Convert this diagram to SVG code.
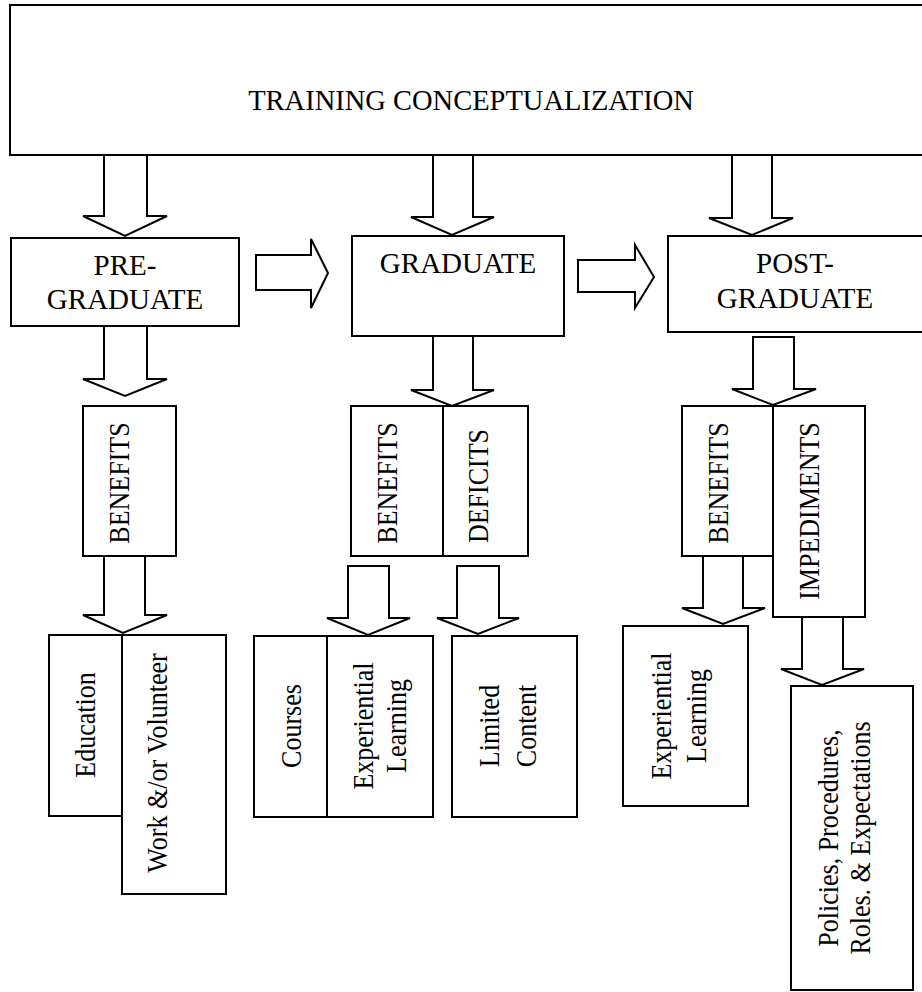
<svg xmlns="http://www.w3.org/2000/svg" width="922" height="992" viewBox="0 0 922 992">
<style>
.box{fill:#fff;stroke:#000;stroke-width:2}
.arr{fill:#fff;stroke:#000;stroke-width:2;stroke-linejoin:miter}
.t{font-family:"Liberation Serif","Times New Roman",serif;fill:#000;text-anchor:middle}
.h{font-size:29px}
.v{font-size:26px}
</style>
<rect width="922" height="992" fill="#fff"/>
<g id="training">
<rect class="box" x="10" y="5" width="930" height="150"/>
<text class="t" x="471" y="110" font-size="28.5">TRAINING CONCEPTUALIZATION</text>
</g>
<g id="connectors">
<polygon class="arr" points="104,155 147,155 147,216 167,216 125,236 83,216 104,216"/>
<polygon class="arr" points="433,155 473,155 473,217 494,217 452,235 411,217 433,217"/>
<polygon class="arr" points="732,155 772,155 772,218 793,218 752,235 709,218 732,218"/>
<polygon class="arr" points="104,326 147,326 147,379 167,379 125,396 83,379 104,379"/>
<polygon class="arr" points="433,336 473,336 473,390 494,390 452,406 411,390 433,390"/>
<polygon class="arr" points="753,337 794,337 794,389 816,389 773,405 732,389 753,389"/>
<polygon class="arr" points="104,556 145,556 145,615 167,615 123,633 83,615 104,615"/>
<polygon class="arr" points="348,566 389,566 389,618 410,618 368,635 327,618 348,618"/>
<polygon class="arr" points="457,566 499,566 499,618 519,618 478,634 437,618 457,618"/>
<polygon class="arr" points="703,556 743,556 743,608 765,608 723,624 682,608 703,608"/>
<polygon class="arr" points="802,617 843,617 843,669 864,669 822,685 781,669 802,669"/>
<polygon class="arr" points="256,255 311,255 311,239 328,273 311,308 311,290 256,290"/>
<polygon class="arr" points="578,260 635,260 635,245 654,277 635,308 635,292 578,292"/>
</g>
<g id="pre-graduate">
<rect class="box" x="11" y="238" width="228" height="88"/>
<text class="t h" x="125" y="275">PRE-</text>
<text class="t h" x="125" y="309">GRADUATE</text>
</g>
<g id="graduate">
<rect class="box" x="352" y="236" width="212" height="100"/>
<text class="t h" x="458" y="273">GRADUATE</text>
</g>
<g id="post-graduate">
<rect class="box" x="668" y="236" width="270" height="96"/>
<text class="t h" x="795" y="273">POST-</text>
<text class="t h" x="795" y="308">GRADUATE</text>
</g>
<g id="pre-benefits">
<rect class="box" x="83" y="406" width="93" height="150"/>
<text class="t v" transform="translate(129,483) rotate(-90) scale(1,1.1)">BENEFITS</text>
</g>
<g id="grad-benefits">
<rect class="box" x="351" y="406" width="92" height="150"/>
<text class="t v" transform="translate(397,483) rotate(-90) scale(1,1.1)">BENEFITS</text>
</g>
<g id="grad-deficits">
<rect class="box" x="443" y="406" width="85" height="150"/>
<text class="t v" transform="translate(488,486) rotate(-90) scale(1,1.1)">DEFICITS</text>
</g>
<g id="post-benefits">
<rect class="box" x="682" y="406" width="91" height="150"/>
<text class="t v" transform="translate(728,483) rotate(-90) scale(1,1.1)">BENEFITS</text>
</g>
<g id="post-impediments">
<rect class="box" x="773" y="406" width="92" height="211"/>
<text class="t v" transform="translate(819,511) rotate(-90) scale(1,1.1)">IMPEDIMENTS</text>
</g>
<g id="education">
<rect class="box" x="49" y="635" width="73" height="181"/>
<text class="t v" transform="translate(95,725) rotate(-90) scale(1,1.1)">Education</text>
</g>
<g id="work-volunteer">
<rect class="box" x="122" y="635" width="104" height="259"/>
<text class="t v" transform="translate(167,763) rotate(-90) scale(1,1.1)">Work &amp;/or Volunteer</text>
</g>
<g id="courses">
<rect class="box" x="254" y="636" width="73" height="181"/>
<text class="t v" transform="translate(301,726) rotate(-90) scale(1,1.1)">Courses</text>
</g>
<g id="grad-experiential">
<rect class="box" x="327" y="636" width="106" height="181"/>
<text class="t v" transform="translate(373,726) rotate(-90) scale(1,1.1)">Experiential</text>
<text class="t v" transform="translate(406,726) rotate(-90) scale(1,1.1)">Learning</text>
</g>
<g id="limited-content">
<rect class="box" x="452" y="636" width="125" height="181"/>
<text class="t v" transform="translate(499,726) rotate(-90) scale(1,1.1)">Limited</text>
<text class="t v" transform="translate(536,726) rotate(-90) scale(1,1.1)">Content</text>
</g>
<g id="post-experiential">
<rect class="box" x="623" y="626" width="125" height="180"/>
<text class="t v" transform="translate(671,716) rotate(-90) scale(1,1.1)">Experiential</text>
<text class="t v" transform="translate(706,716) rotate(-90) scale(1,1.1)">Learning</text>
</g>
<g id="policies">
<rect class="box" x="791" y="686" width="122" height="304"/>
<text class="t v" transform="translate(838,838) rotate(-90) scale(1,1.1)">Policies, Procedures,</text>
<text class="t v" transform="translate(870,838) rotate(-90) scale(1,1.1)">Roles. &amp; Expectations</text>
</g>
</svg>
